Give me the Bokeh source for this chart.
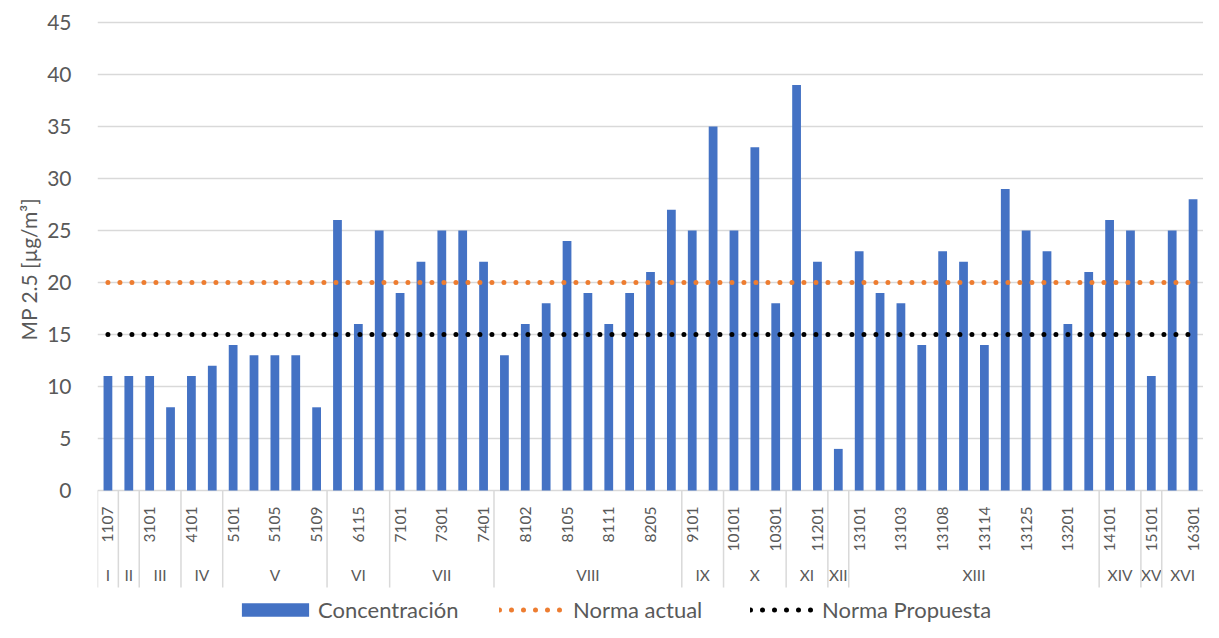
import math
import numpy as np
from bokeh.plotting import figure
from bokeh.models import Range1d, FixedTicker, Legend, LegendItem, Title, ColumnDataSource
from bokeh.core.properties import value
from bokeh.embed import file_html
from bokeh.resources import INLINE

# ---------------- data ----------------
codes = ["1107", "", "3101", "", "4101", "", "5101", "", "5105", "", "5109", "",
         "6115", "", "7101", "", "7301", "", "7401", "", "8102", "", "8105", "",
         "8111", "", "8205", "", "9101", "", "10101", "", "10301", "", "11201", "",
         "13101", "", "13103", "", "13108", "", "13114", "", "13125", "", "13201", "",
         "14101", "", "15101", "", "16301"]
concentracion = [11, 11, 11, 8, 11, 12, 14, 13, 13, 13, 8, 26, 16, 25, 19, 22, 25, 25,
                 22, 13, 16, 18, 24, 19, 16, 19, 21, 27, 25, 35, 25, 33, 18, 39, 22, 4,
                 23, 19, 18, 14, 23, 22, 14, 29, 25, 23, 16, 21, 26, 25, 11, 25, 28]
group_names = ["I", "II", "III", "IV", "V", "VI", "VII", "VIII", "IX", "X", "XI",
               "XII", "XIII", "XIV", "XV", "XVI"]
group_sizes = [1, 1, 2, 2, 5, 3, 5, 9, 2, 3, 2, 1, 12, 2, 1, 2]
norma_actual = 20
norma_propuesta = 15
y_ticks = [0, 5, 10, 15, 20, 25, 30, 35, 40, 45]

FONT = "Lato"
TXT = "#595959"
GRID = "#D9D9D9"
BLUE = "#4472C4"
ORANGE = "#ED7D31"

n = len(concentracion)
idx = list(range(n))

p = figure(width=1203, height=622, output_backend="svg", toolbar_location=None,
           x_range=Range1d(-0.5, n - 0.5), y_range=Range1d(-12.692, 47.115),
           x_axis_location=None,
           min_border_left=97, min_border_right=0, min_border_top=0, min_border_bottom=0)
p.outline_line_color = None
p.background_fill_color = "white"
p.border_fill_color = "white"

# y axis
yt = FixedTicker(ticks=y_ticks)
p.yaxis.ticker = yt
p.yaxis.axis_line_color = None
p.yaxis.major_tick_line_color = None
p.yaxis.minor_tick_line_color = None
p.yaxis.major_label_standoff = 20
p.yaxis.major_label_text_font = FONT
p.yaxis.major_label_text_font_size = "21px"
p.yaxis.major_label_text_color = TXT

p.xgrid.visible = False
p.ygrid.ticker = yt
p.ygrid.grid_line_color = GRID
p.ygrid.grid_line_width = 1.3

title = Title(text="MP 2.5 [µg/m³]", align="left", offset=282, text_font=FONT,
              text_font_size="21px", text_font_style="normal", text_color=TXT, standoff=8)
p.add_layout(title, "left")

# bars
src = ColumnDataSource(dict(x=idx, top=concentracion))
bars = p.vbar(x="x", top="top", bottom=0, width=0.42, source=src,
              fill_color=BLUE, line_color=None)

# norm lines
xs = [idx[0], idx[-1]]
l_act = p.line(xs, [norma_actual] * 2, line_color=ORANGE, line_width=5,
               line_dash="0 12", line_cap="round")
l_pro = p.line(xs, [norma_propuesta] * 2, line_color="black", line_width=5,
               line_dash="0 12", line_cap="round")

# category codes (first level)
code_x = [i for i, c in enumerate(codes) if c]
code_t = [c for c in codes if c]
p.text(x=code_x, y=[-1.54] * len(code_x), text=code_t, angle=math.pi / 2,
       text_align="right", text_baseline="middle", text_font=value(FONT),
       text_font_size="15.5px", text_color=TXT)

# groups (second level)
bounds = np.cumsum([0] + group_sizes) - 0.5
centers = (bounds[:-1] + bounds[1:]) / 2
p.text(x=list(centers), y=[-8.08] * len(centers), text=group_names,
       text_align="center", text_baseline="middle", text_font=value(FONT),
       text_font_size="15.5px", text_color=TXT)
sep_x = list(bounds[:-1])
p.segment(x0=sep_x, y0=[0] * len(sep_x), x1=sep_x, y1=[-9.33] * len(sep_x),
          line_color=GRID, line_width=1.5)

common = dict(orientation="horizontal", padding=0, margin=0, border_line_color=None,
              background_fill_alpha=0, label_text_font=FONT, label_text_font_size="22px",
              label_text_color=TXT, label_height=20)
leg1 = Legend(items=[LegendItem(label="Concentración", renderers=[bars])],
              location=(136, -1), glyph_width=84, glyph_height=17, label_standoff=1, **common)
leg2 = Legend(items=[LegendItem(label="Norma actual", renderers=[l_act])],
              location=(402, -1), glyph_width=67, glyph_height=17, label_standoff=7, **common)
leg3 = Legend(items=[LegendItem(label="Norma Propuesta", renderers=[l_pro])],
              location=(653, -1), glyph_width=67, glyph_height=17, label_standoff=5, **common)
for lg in (leg1, leg2, leg3):
    p.add_layout(lg)

open("out.html", "w").write(file_html(p, INLINE))
